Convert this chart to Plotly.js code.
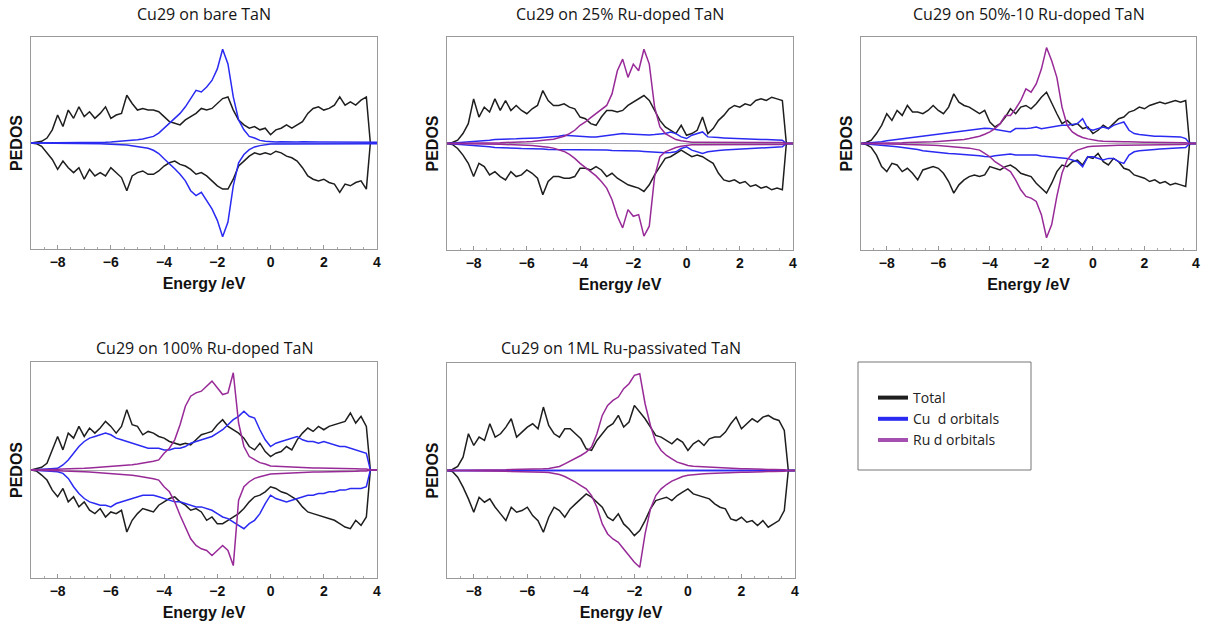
<!DOCTYPE html>
<html>
<head>
<meta charset="utf-8">
<script src="https://cdn.plot.ly/plotly-3.0.1.min.js"></script>
<style>html,body{margin:0;padding:0;background:#fff;overflow:hidden;}#chart{width:1213px;height:621px;}</style>
</head>
<body>
<div id="chart"></div>
<script>
// Energy grid (eV)
const energy = [-9.0,-8.8,-8.6,-8.4,-8.2,-8.0,-7.8,-7.6,-7.4,-7.2,
  -7.0,-6.8,-6.6,-6.4,-6.2,-6.0,-5.8,-5.6,-5.4,-5.2,
  -5.0,-4.8,-4.6,-4.4,-4.2,-4.0,-3.8,-3.6,-3.4,-3.2,
  -3.0,-2.8,-2.6,-2.4,-2.2,-2.0,-1.8,-1.6,-1.4,-1.2,
  -1.0,-0.8,-0.6,-0.4,-0.2,0.0,0.2,0.4,0.6,0.8,
  1.0,1.2,1.4,1.6,1.8,2.0,2.2,2.4,2.6,2.8,
  3.0,3.2,3.4,3.6,3.75,4.0];

const panelTitles = ["Cu29 on bare TaN","Cu29 on 25% Ru-doped TaN","Cu29 on 50%-10 Ru-doped TaN",
  "Cu29 on 100% Ru-doped TaN","Cu29 on 1ML Ru-passivated TaN"];
const seriesNames = ["Total","Cu\u00a0 d orbitals","Ru d orbitals"];
const xTickVals = [-8,-6,-4,-2,0,2,4];

// Spin-down series are stored as magnitudes and drawn below the zero line.
// Panel 1: bare TaN
const p1TotalUp = [0,2,5,15,40,85,50,100,75,110, 80,95,75,90,110,75,85,90,145,120,
  100,105,100,100,95,80,65,60,55,70, 80,90,105,100,105,120,135,140,100,70,
  55,45,50,40,45,25,40,45,55,45, 55,65,90,105,110,100,105,115,140,115, 125,115,130,140,0,0];
const p1TotalDown = [0,2,10,30,50,80,55,75,90,75, 110,80,100,90,100,75,90,105,145,100,
  90,85,95,95,85,70,60,55,65,70, 80,95,90,100,115,130,140,140,110,70,
  55,40,30,35,30,35,25,30,40,45, 55,75,100,110,115,110,120,125,150,125, 130,120,115,140,0,0];
const p1CuUp = [0,0,0,0,0,1,1,1,1,1, 1,2,2,2,2,3,4,5,6,7,
  10,12,15,20,30,45,60,75,90,110, 135,160,155,170,190,225,285,240,140,70,
  40,20,15,8,5,3,3,4,3,4, 3,4,3,4,3,3,3,3,3,3, 3,3,3,3,2,2];
const p1CuDown = [0,0,0,0,0,1,1,1,1,1, 1,2,2,2,3,3,4,5,6,8,
  10,13,16,22,32,48,62,78,95,115, 145,160,150,175,200,235,285,240,130,60,
  35,20,12,8,5,3,3,3,3,3, 3,3,3,3,3,3,3,3,3,3, 3,3,3,3,2,2];

// Panel 2: 25% Ru-doped
const p2TotalUp = [0,3,10,30,60,135,80,110,95,135, 100,130,100,115,100,90,105,115,160,130,
  115,115,120,110,105,80,75,60,55,80, 100,100,95,100,115,125,135,145,130,100,
  70,50,40,30,55,25,30,40,80,30, 45,70,85,105,115,110,120,115,130,135, 130,140,135,130,0,0];
const p2TotalDown = [0,3,15,35,60,100,60,70,95,85, 100,110,85,100,95,80,90,105,155,115,
  100,100,105,105,100,75,75,80,70,80, 100,90,105,115,125,130,135,145,125,95,
  70,45,40,30,20,30,40,35,40,50, 60,90,110,115,110,120,115,130,125,135, 130,140,135,140,0,0];
const p2CuUp = [0,1,3,4,5,5,7,9,10,12, 12,13,14,14,15,15,16,17,18,19,
  20,22,25,24,22,20,20,20,20,22, 25,27,28,30,29,28,27,25,26,27,
  28,30,35,30,20,15,25,30,35,20, 20,18,17,16,15,15,14,13,13,12, 12,11,10,10,0,0];
const p2CuDown = [0,1,3,4,5,5,7,9,10,12, 12,13,14,14,15,15,16,17,17,18,
  18,19,20,19,18,18,18,19,19,20, 20,21,21,22,22,22,23,24,25,26,
  28,28,27,25,15,10,20,25,30,25, 22,21,20,19,18,18,16,15,14,12, 12,11,10,10,0,0];
const p2RuUp = [0,0,0,0,1,1,1,1,2,2, 2,3,3,4,4,5,6,7,9,11,
  13,17,22,30,40,55,65,78,90,102, 115,150,220,255,200,240,220,285,240,110,
  50,30,20,12,8,5,4,4,4,4, 4,4,4,4,3,3,3,3,3,3, 3,3,3,3,0,0];
const p2RuDown = [0,0,0,0,1,1,1,1,2,2, 2,3,3,4,4,5,6,7,9,11,
  14,18,24,33,45,60,72,85,98,115, 135,170,220,255,200,220,215,280,250,100,
  40,25,18,12,8,5,4,4,4,4, 4,4,4,4,3,3,3,3,3,3, 3,3,3,3,0,0];

// Panel 3: 50%-10 Ru-doped
const p3TotalUp = [0,3,10,30,55,90,70,100,85,115, 95,95,90,100,115,100,90,110,150,125,
  115,110,100,90,100,65,50,60,80,105, 90,110,115,105,120,140,155,120,90,60,
  70,55,60,45,50,30,40,55,45,60, 75,80,95,100,110,105,115,120,125,120, 125,130,125,130,0,0];
const p3TotalDown = [0,3,12,35,70,85,60,65,85,75, 90,110,80,75,70,75,90,115,150,125,
  110,100,95,100,95,70,75,80,70,65, 75,90,95,100,120,135,150,120,85,65,
  70,55,50,65,40,45,30,55,65,45, 55,75,80,95,100,105,115,110,120,115, 125,120,125,130,0,0];
const p3CuUp = [0,1,3,4,5,8,10,12,14,16, 18,20,24,26,28,30,32,34,36,38,
  40,42,44,45,46,45,42,40,38,35, 45,44,45,47,50,45,48,50,52,55,
  55,58,60,75,45,40,45,50,45,55, 60,65,40,30,27,25,24,22,22,21, 20,20,20,15,0,0];
const p3CuDown = [0,1,3,3,4,6,8,10,12,14, 15,18,22,24,26,28,29,30,31,32,
  32,33,35,37,39,40,37,35,33,32, 35,35,35,35,35,38,39,40,41,42,
  45,50,55,70,40,40,45,50,45,45, 55,60,35,25,22,20,19,18,17,16, 15,14,13,12,0,0];
const p3RuUp = [0,0,0,0,1,1,1,2,2,3, 3,4,4,5,5,6,7,8,9,10,
  12,15,18,22,28,35,45,60,85,85, 105,130,165,155,180,225,290,250,200,110,
  55,35,25,18,14,10,8,7,6,6, 5,5,5,4,4,4,4,4,3,3, 3,3,3,2,0,0];
const p3RuDown = [0,0,0,0,1,1,1,2,2,3, 3,4,4,5,5,6,7,8,9,10,
  12,14,17,20,30,40,55,65,75,85, 110,140,160,165,175,215,285,245,160,90,
  50,30,20,14,10,8,7,6,6,5, 5,5,5,4,4,4,4,4,3,3, 3,3,3,2,0,0];

// Panel 4: 100% Ru-doped
const p4TotalUp = [0,3,8,20,60,100,60,110,95,130, 100,125,110,125,145,130,110,130,180,135,
  130,105,115,110,100,95,85,80,75,80, 75,90,105,110,115,135,150,130,120,110,
  95,70,60,80,55,40,50,55,70,60, 90,110,125,115,130,120,130,135,140,145, 170,140,160,130,0,0];
const p4TotalDown = [0,3,15,30,60,80,55,95,80,110, 95,120,130,115,140,125,130,120,185,150,
  130,115,120,125,105,95,85,80,95,105, 120,115,125,150,140,160,160,150,140,130,
  115,95,80,75,65,50,55,65,70,80, 90,110,125,130,135,140,145,150,160,170, 175,150,165,140,0,0];
const p4CuUp = [0,0,2,3,4,5,15,30,50,70, 85,95,100,105,110,105,95,90,85,80,
  75,70,65,65,65,60,60,65,65,70, 80,85,90,95,100,110,120,135,150,160,
  175,160,155,120,90,70,80,85,90,95, 100,90,85,85,80,85,80,75,70,70, 65,60,55,50,0,0];
const p4CuDown = [0,0,2,3,4,5,10,25,50,70, 85,95,100,105,105,110,100,95,90,85,
  80,75,75,75,80,85,90,95,95,100, 105,110,110,115,120,130,140,145,155,165,
  175,160,150,130,100,75,85,90,95,90, 85,80,75,75,70,70,65,65,60,60, 55,55,55,50,0,0];
const p4RuUp = [0,0,1,1,2,2,3,3,4,4, 5,6,7,8,9,10,11,12,14,16,
  18,20,22,26,30,50,65,90,135,190, 220,230,235,250,265,245,225,230,290,140,
  70,40,30,22,18,12,11,10,9,8, 8,7,7,6,6,6,5,5,5,4, 4,4,3,3,0,0];
const p4RuDown = [0,0,1,1,2,2,3,3,4,4, 5,6,7,8,9,10,11,12,14,16,
  18,20,22,26,30,50,65,95,135,170, 205,225,235,240,255,240,225,240,285,90,
  50,35,25,20,15,12,11,10,9,8, 8,7,7,6,6,6,5,5,5,4, 4,4,3,3,0,0];

// Panel 5: 1ML Ru-passivated
const p5TotalUp = [0,3,12,40,110,75,100,90,140,100, 110,130,155,100,115,130,140,125,190,135,
  110,100,125,125,110,95,65,60,90,110, 130,140,165,130,145,195,175,155,130,105,
  100,90,80,95,85,60,80,90,75,95, 100,100,115,140,160,125,140,155,145,160, 165,155,150,120,0,0];
const p5TotalDown = [0,3,20,50,85,125,80,95,85,110, 130,150,110,125,120,110,135,150,185,140,
  110,120,140,115,100,85,70,80,95,110, 140,150,130,160,175,195,180,150,115,90,
  85,80,90,75,65,55,70,75,80,85, 100,110,115,145,150,140,155,150,165,150, 170,160,150,120,0,0];
const p5CuUp = [0,0,1,1,1,1,1,1,1,1, 1,1,1,1,1,1,1,1,1,1,
  1,1,1,2,2,2,2,2,2,2, 2,2,2,2,2,2,2,2,2,2, 2,2,2,1,1,1,1,1,1,1,
  1,1,1,1,1,1,1,1,1,1, 1,1,1,1,0,0];
const p5CuDown = [0,0,1,1,1,1,1,1,1,1, 1,1,1,1,1,1,1,1,1,1,
  1,1,1,2,2,2,2,2,2,2, 2,2,2,2,2,2,2,2,2,2, 2,2,2,1,1,1,1,1,1,1,
  1,1,1,1,1,1,1,1,1,1, 1,1,1,1,0,0];
const p5RuUp = [0,0,0,1,1,1,1,1,2,2, 2,2,3,3,3,3,4,4,5,6,
  8,12,20,28,35,45,55,70,110,165, 195,210,220,245,260,285,290,200,135,85,
  60,45,35,25,20,15,13,12,11,10, 8,8,7,6,6,5,5,4,4,4, 3,3,3,2,0,0];
const p5RuDown = [0,0,0,1,1,1,1,1,2,2, 2,2,3,3,3,3,4,4,5,6,
  8,12,18,26,35,45,55,75,110,160, 190,205,215,235,255,275,290,190,115,75,
  55,42,32,25,18,14,12,11,10,9, 8,8,7,6,6,5,5,4,4,4, 3,3,3,2,0,0];

const COL_TOT = '#1e1e1e', COL_CU = '#2a2af2', COL_RU = '#982a98';
const W = 1213, H = 621;
const px = p => p / W, py = p => 1 - p / H;

// Panel boxes in page pixels: [left, right, top, bottom]
const boxes = [[31,377,37,249],[447,793,37,250],[861,1196,37,250],[31,377,362,578],[447,795,363,578]];

const panels = [
  {tu:p1TotalUp, td:p1TotalDown, cu:p1CuUp, cd:p1CuDown},
  {tu:p2TotalUp, td:p2TotalDown, cu:p2CuUp, cd:p2CuDown, ru:p2RuUp, rd:p2RuDown},
  {tu:p3TotalUp, td:p3TotalDown, cu:p3CuUp, cd:p3CuDown, ru:p3RuUp, rd:p3RuDown},
  {tu:p4TotalUp, td:p4TotalDown, cu:p4CuUp, cd:p4CuDown, ru:p4RuUp, rd:p4RuDown},
  {tu:p5TotalUp, td:p5TotalDown, cu:p5CuUp, cd:p5CuDown, ru:p5RuUp, rd:p5RuDown}
];

const traces = [];
const layout = {
  width: W, height: H, margin: {l:0, r:0, t:0, b:0},
  paper_bgcolor: '#fff', plot_bgcolor: '#fff', showlegend: true,
  font: {family: 'Liberation Sans, Arial, sans-serif', color: '#111'},
  annotations: [], shapes: []
};

const neg = a => a.map(v => -v);
const tickLabel = v => v < 0 ? '\u2212' + (-v) : String(v);
function line(x, y, color, ax) {
  return {x: x, y: y, type: 'scatter', mode: 'lines', line: {color: color, width: 1.5},
    xaxis: 'x' + ax, yaxis: 'y' + ax, showlegend: false, hoverinfo: 'skip'};
}
const tickFont = {size: 14, family: 'Liberation Sans, Arial, sans-serif', color: '#111', weight: 'bold'};

panels.forEach((p, i) => {
  const ax = i === 0 ? '' : String(i + 1);
  traces.push(line(energy, p.tu, COL_TOT, ax), line(energy, neg(p.td), COL_TOT, ax));
  traces.push(line(energy, p.cu, COL_CU, ax), line(energy, neg(p.cd), COL_CU, ax));
  if (p.ru) traces.push(line(energy, p.ru, COL_RU, ax), line(energy, neg(p.rd), COL_RU, ax));
  const b = boxes[i];
  layout['xaxis' + ax] = {
    domain: [px(b[0]), px(b[1])], anchor: 'y' + ax, range: [-9, 4],
    tickmode: 'array', tickvals: xTickVals, ticktext: xTickVals.map(tickLabel),
    ticks: 'inside', ticklen: 4, tickcolor: '#999', tickwidth: 1, ticklabeloverflow: 'allow',
    minor: {ticks: 'inside', dtick: 0.5, tick0: 0, ticklen: 2, tickcolor: '#aaa', showgrid: false},
    showgrid: false, zeroline: false, showline: true, mirror: true, linecolor: '#9a9a9a', linewidth: 1,
    tickfont: tickFont,
    title: {text: '<b>Energy /eV</b>', font: {size: 16, color: '#111'}, standoff: 9},
    automargin: false, fixedrange: true
  };
  layout['yaxis' + ax] = {
    domain: [py(b[3]), py(b[2])], anchor: 'x' + ax, range: [-322, 322],
    showticklabels: false, ticks: '', showgrid: false,
    zeroline: true, zerolinecolor: '#aaaaaa', zerolinewidth: 1,
    showline: true, mirror: true, linecolor: '#9a9a9a', linewidth: 1,
    title: {text: '<b>PEDOS</b>', font: {size: 16, color: '#111'}, standoff: 3},
    automargin: false, fixedrange: true
  };
  layout.annotations.push({
    text: panelTitles[i], xref: 'paper', yref: 'paper', x: px((b[0] + b[1]) / 2),
    y: py(i < 3 ? 14 : 348), xanchor: 'center', yanchor: 'middle', showarrow: false,
    font: {family: 'Open Sans, Lato, sans-serif', size: 16, color: '#151515'}
  });
});

// legend-only entries
[[seriesNames[0], COL_TOT], [seriesNames[1], COL_CU], [seriesNames[2], '#a550b0']].forEach(s => {
  traces.push({x: [null], y: [null], type: 'scatter', mode: 'lines', name: s[0],
    line: {color: s[1], width: 4}, xaxis: 'x', yaxis: 'y', showlegend: true});
});
layout.legend = {x: px(873), y: py(382), xanchor: 'left', yanchor: 'top', bgcolor: 'rgba(0,0,0,0)',
  borderwidth: 0, itemwidth: 30, tracegroupgap: 0,
  font: {family: 'Open Sans, Lato, sans-serif', size: 14, color: '#222'}};
layout.shapes.push({type: 'rect', xref: 'paper', yref: 'paper', x0: px(858), x1: px(1031), y0: py(470), y1: py(362),
  line: {color: '#777', width: 1}, fillcolor: 'rgba(0,0,0,0)'});

Plotly.newPlot('chart', traces, layout, {staticPlot: true, displayModeBar: false});
</script>
</body>
</html>
